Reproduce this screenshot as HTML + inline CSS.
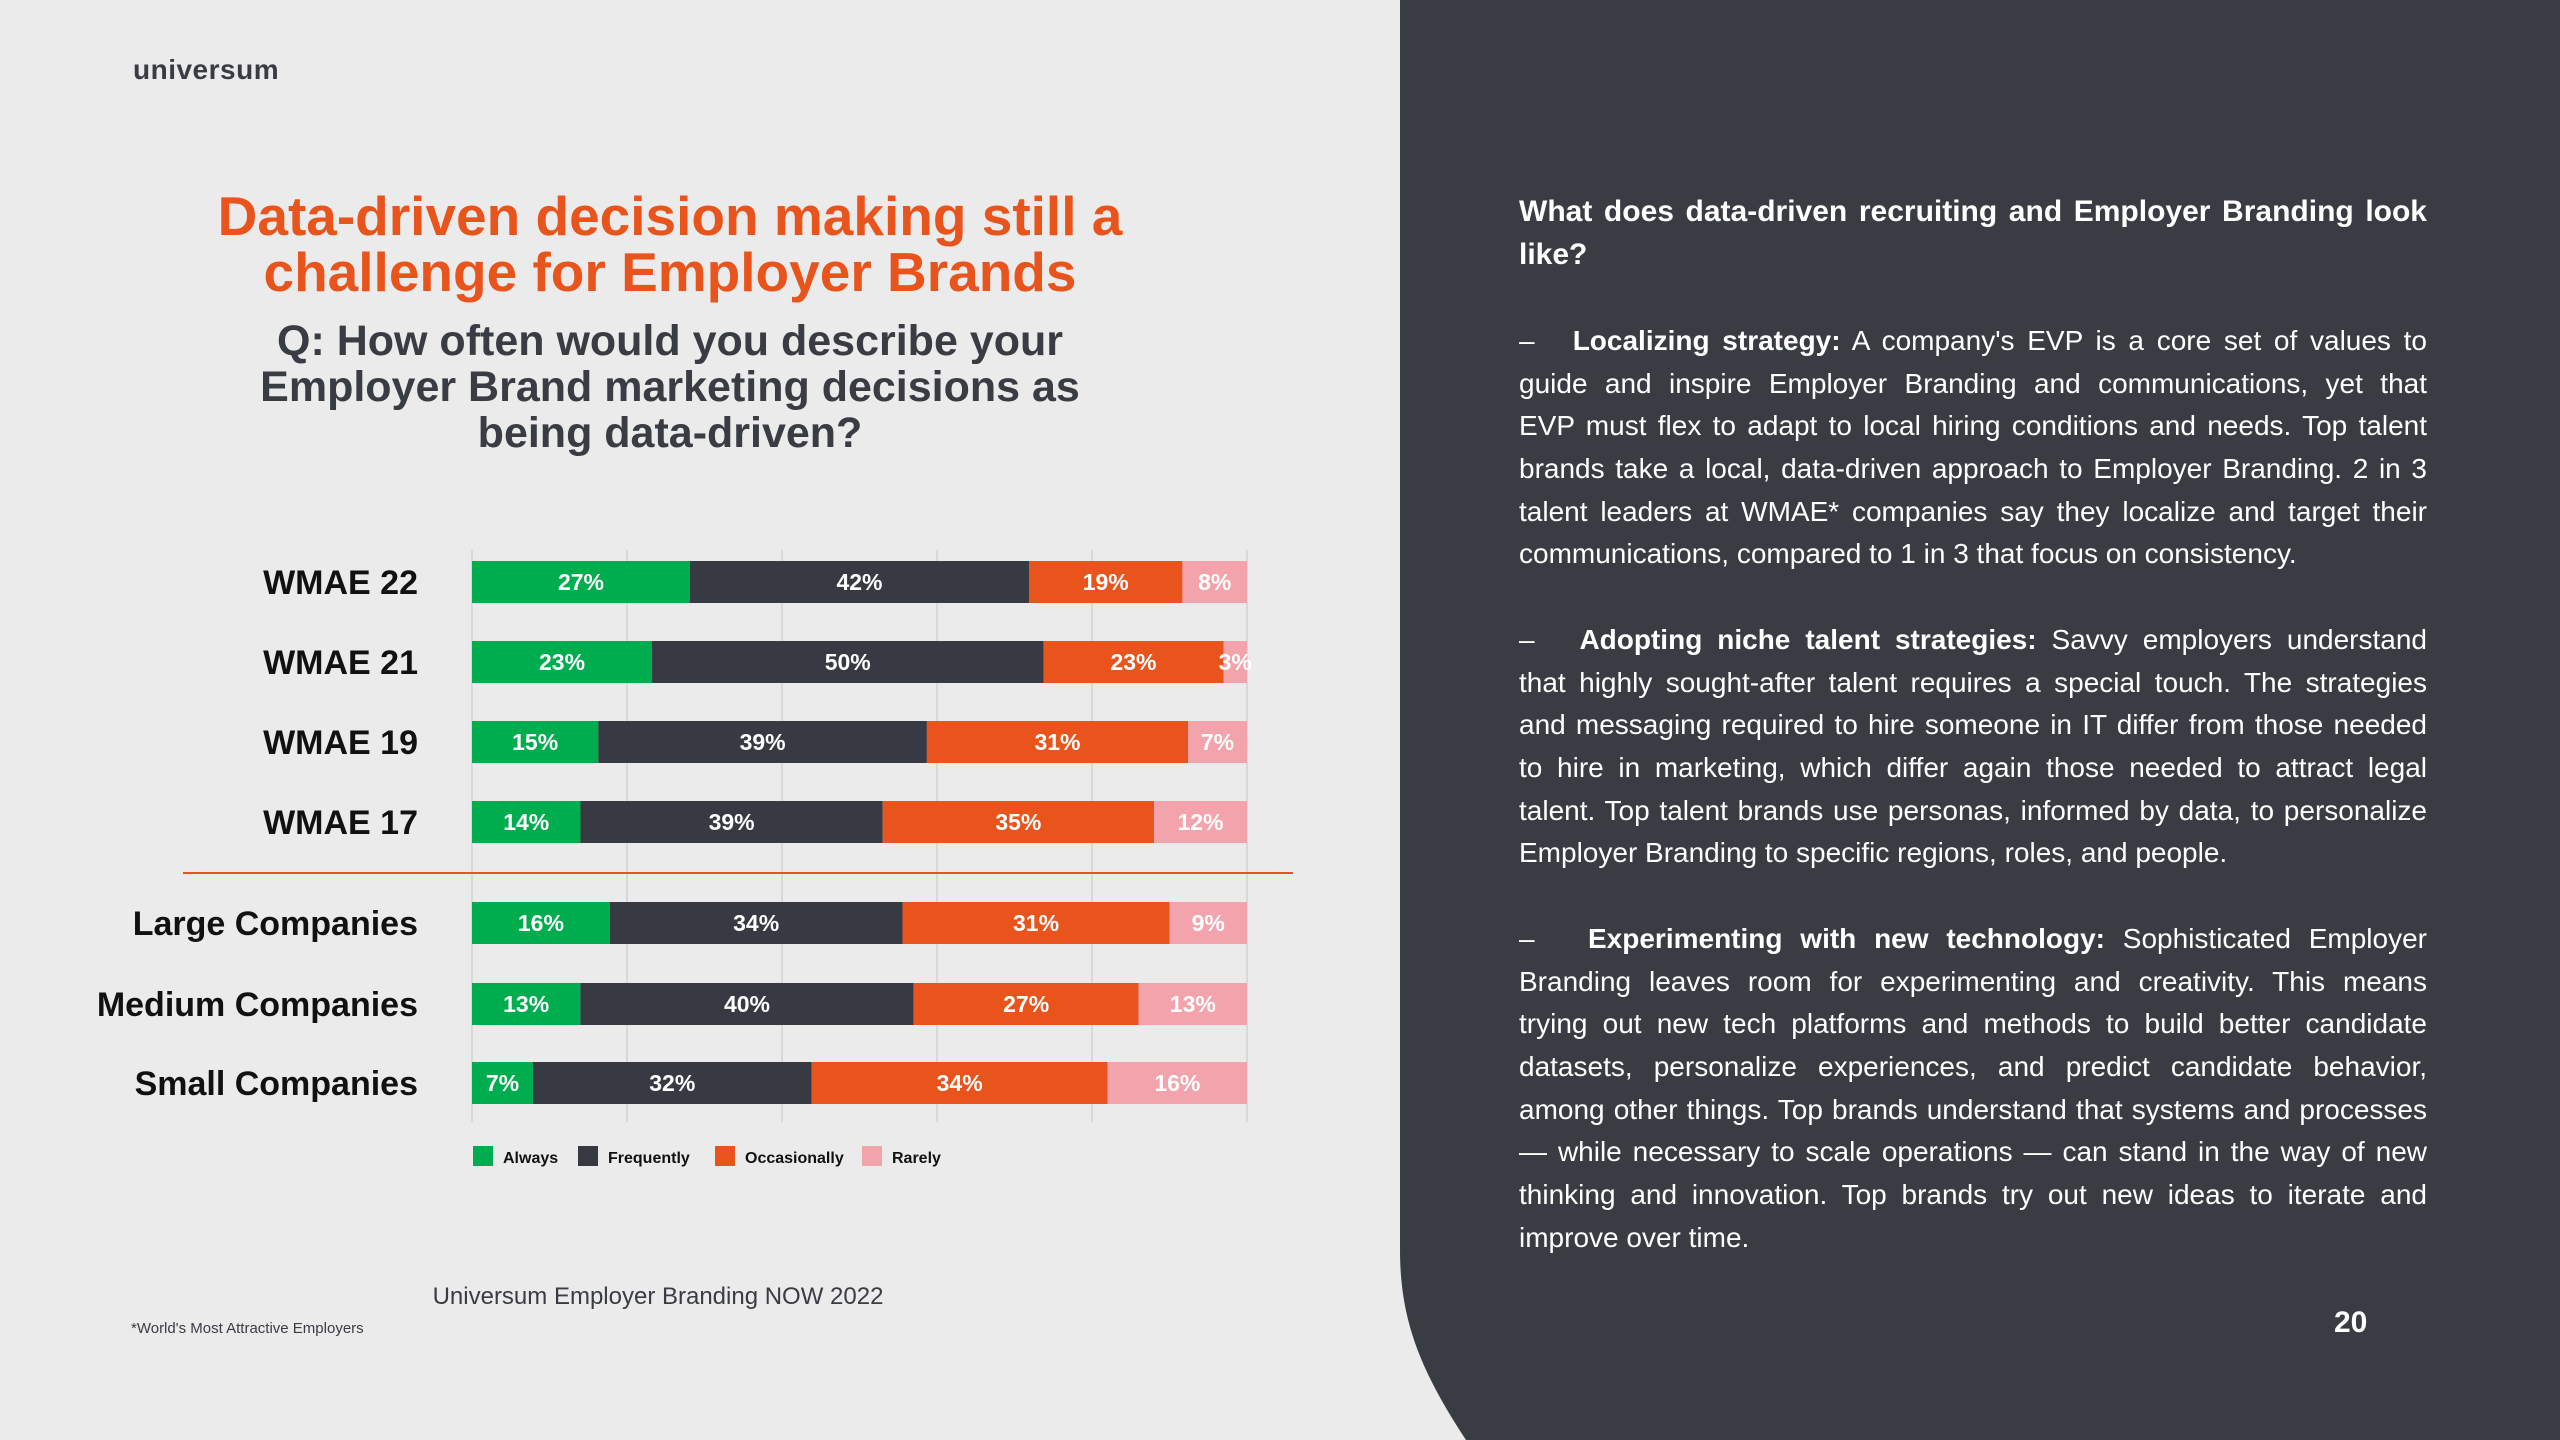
<!DOCTYPE html>
<html><head><meta charset="utf-8"><style>
body{margin:0;width:2560px;height:1440px;overflow:hidden;background:#ebebeb;font-family:"Liberation Sans",sans-serif;position:relative}
.abs{position:absolute}
.t{position:absolute;white-space:nowrap}
.rl{position:absolute;left:1519px;width:908px;font-size:28px;line-height:42px;color:#fff;text-align:justify;text-align-last:justify;white-space:nowrap}
.rl.l{text-align-last:left}
.hd{font-size:30px;font-weight:bold}
</style></head><body>
<svg class="abs" style="left:0;top:0" width="2560" height="1440">
<path d="M1400 0 H2560 V1440 H1466 C1420 1370 1400 1320 1400 1250 Z" fill="#393c43"/>
</svg>
<div class="t" style="left:133px;top:54px;font-size:28px;font-weight:bold;color:#393c43;letter-spacing:0.5px">universum</div>
<div class="t" style="left:120px;width:1100px;top:188px;text-align:center;font-size:55px;line-height:56px;font-weight:bold;color:#e9541d">Data-driven decision making still a<br>challenge for Employer Brands</div>
<div class="t" style="left:120px;width:1100px;top:318px;text-align:center;font-size:43px;line-height:46px;font-weight:bold;color:#393c43">Q: How often would you describe your<br>Employer Brand marketing decisions as<br>being data-driven?</div>
<svg id="chart" class="abs" style="left:0;top:0" width="1400" height="1440"></svg>
<div class="t" style="left:358px;width:600px;top:1283px;text-align:center;font-size:24px;color:#393c43">Universum Employer Branding NOW 2022</div>
<div class="t" style="left:131px;top:1320px;font-size:15px;color:#393c43">*World's Most Attractive Employers</div>

<div>
<div class="rl hd" style="top:191px">What does data-driven recruiting and Employer Branding look</div>
<div class="rl l hd" style="top:234px">like?</div>
</div>
<div>
<div class="rl" style="top:320px">–&nbsp;&nbsp;&nbsp;<b>Localizing strategy:</b> A company's EVP is a core set of values to</div>
<div class="rl" style="top:363px">guide and inspire Employer Branding and communications, yet that</div>
<div class="rl" style="top:405px">EVP must flex to adapt to local hiring conditions and needs. Top talent</div>
<div class="rl" style="top:448px">brands take a local, data-driven approach to Employer Branding. 2 in 3</div>
<div class="rl" style="top:491px">talent leaders at WMAE* companies say they localize and target their</div>
<div class="rl l" style="top:533px">communications, compared to 1 in 3 that focus on consistency.</div>
</div>
<div>
<div class="rl" style="top:619px">–&nbsp;&nbsp;&nbsp;<b>Adopting niche talent strategies:</b> Savvy employers understand</div>
<div class="rl" style="top:662px">that highly sought-after talent requires a special touch. The strategies</div>
<div class="rl" style="top:704px">and messaging required to hire someone in IT differ from those needed</div>
<div class="rl" style="top:747px">to hire in marketing, which differ again those needed to attract legal</div>
<div class="rl" style="top:790px">talent. Top talent brands use personas, informed by data, to personalize</div>
<div class="rl l" style="top:832px">Employer Branding to specific regions, roles, and people.</div>
</div>
<div>
<div class="rl" style="top:918px">–&nbsp;&nbsp;&nbsp;<b>Experimenting with new technology:</b> Sophisticated Employer</div>
<div class="rl" style="top:961px">Branding leaves room for experimenting and creativity. This means</div>
<div class="rl" style="top:1003px">trying out new tech platforms and methods to build better candidate</div>
<div class="rl" style="top:1046px">datasets, personalize experiences, and predict candidate behavior,</div>
<div class="rl" style="top:1089px">among other things. Top brands understand that systems and processes</div>
<div class="rl" style="top:1131px">— while necessary to scale operations — can stand in the way of new</div>
<div class="rl" style="top:1174px">thinking and innovation. Top brands try out new ideas to iterate and</div>
<div class="rl l" style="top:1217px">improve over time.</div>
</div>
<div class="t" style="left:2334px;top:1306px;font-size:30px;font-weight:bold;color:#fff">20</div>

<script>
const categories=["WMAE 22","WMAE 21","WMAE 19","WMAE 17","Large Companies","Medium Companies","Small Companies"];
const always=[27,23,15,14,16,13,7];
const frequently=[42,50,39,39,34,40,32];
const occasionally=[19,23,31,35,31,27,34];
const rarely=[8,3,7,12,9,13,16];
const seriesNames=["Always","Frequently","Occasionally","Rarely"];
const colors=["#00ad4e","#373a42","#e9541d","#f2a3ab"];
const rowTops=[561,641,721,801,902,983,1062];
const X0=472,X1=1247,BH=42;
const svg=document.getElementById('chart');
const NS='http://www.w3.org/2000/svg';
function mk(t,a){const e=document.createElementNS(NS,t);for(const k in a)e.setAttribute(k,a[k]);svg.appendChild(e);return e;}
function xScale(frac){return X0+frac*(X1-X0);}
for(let i=0;i<=5;i++){const g=mk('line',{x1:xScale(i/5),x2:xScale(i/5),y1:550,y2:1122,stroke:'#d9d9d9','stroke-width':2});

}
const dv=mk('line',{x1:183,x2:1293,y1:873,y2:873,stroke:'#e9541d','stroke-width':2});


const series=[always,frequently,occasionally,rarely];
categories.forEach((c,r)=>{
  const y=rowTops[r];
  const lb=mk('text',{x:418,y:y+BH/2+12,'text-anchor':'end','font-size':34,'font-weight':'bold',fill:'#111','font-family':'Liberation Sans, sans-serif'});
  lb.textContent=c;
  
  
  const tot=series.reduce((s,a)=>s+a[r],0);
  let acc=0;
  series.forEach((a,si)=>{
    const xa=xScale(acc/tot),xb=xScale((acc+a[r])/tot);acc+=a[r];
    const rc=mk('rect',{x:xa,y:y,width:Math.max(0,xb-xa),height:BH,fill:colors[si]});
    
    
    const tx=mk('text',{x:(xa+xb)/2,y:y+BH/2+8,'text-anchor':'middle','font-size':23,'font-weight':'bold',fill:'#fff','font-family':'Liberation Sans, sans-serif'});
    tx.textContent=a[r]+'%';
    
    
  });
});
const legX=[473,578,715,862];
seriesNames.forEach((n,i)=>{
  const sq=mk('rect',{x:legX[i],y:1146,width:20,height:20,fill:colors[i]});
  
  
  const t=mk('text',{x:legX[i]+30,y:1163,'font-size':16,'font-weight':'bold',fill:'#111','font-family':'Liberation Sans, sans-serif'});
  t.textContent=n;
  
  
});
</script>
</body></html>
